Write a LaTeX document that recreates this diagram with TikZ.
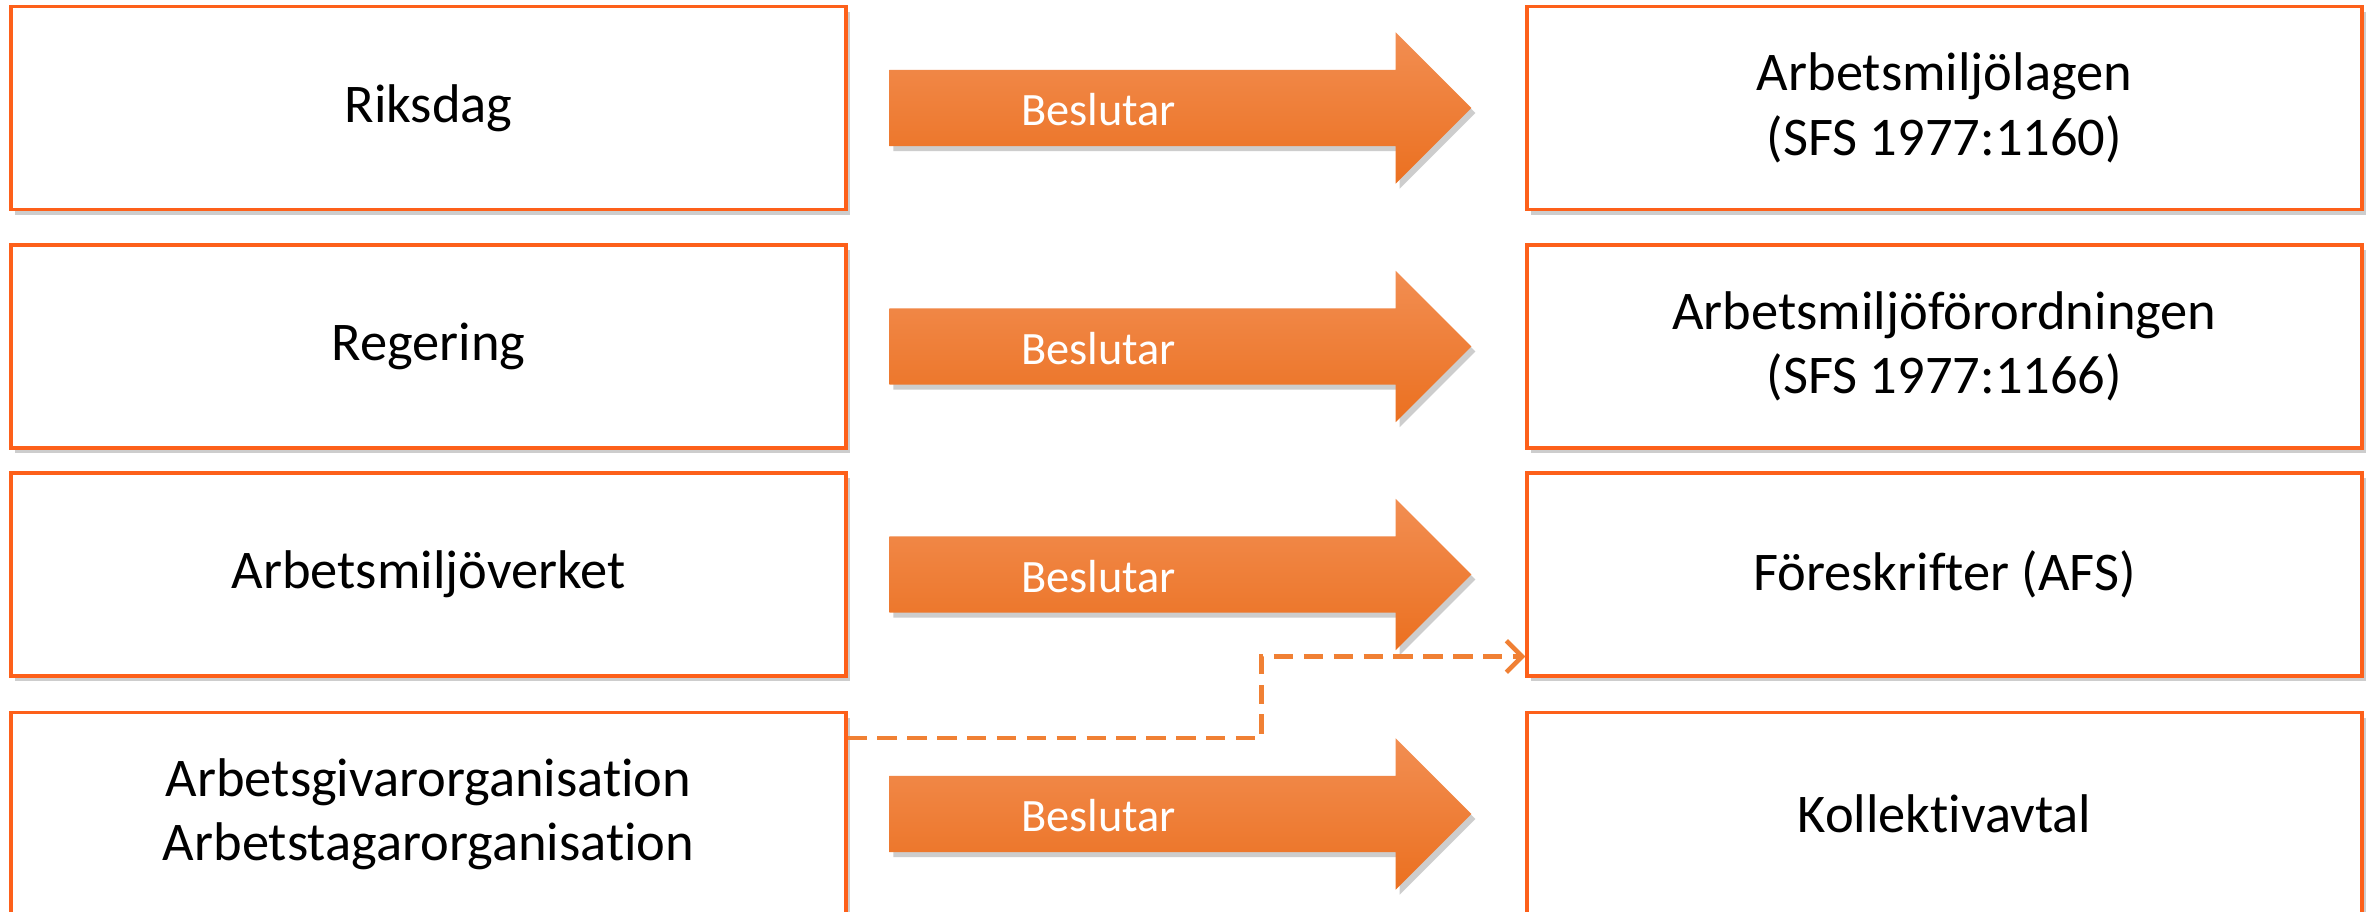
\documentclass[tikz,border=0pt]{standalone}
\usepackage{fontspec}
\setmainfont[Ligatures=NoCommon]{Carlito}
\usepackage{tikz}
\usetikzlibrary{positioning,arrows.meta,shapes.arrows,shadows}

\definecolor{kant}{RGB}{253,96,26}
\definecolor{piltop}{RGB}{242,142,82}
\definecolor{pilmid}{RGB}{244,128,48}
\definecolor{pilbot}{RGB}{235,112,32}
\definecolor{streck}{RGB}{240,128,52}

\begin{document}
\begin{tikzpicture}[
  niva/.style={rectangle,draw=kant,line width=0.9pt,fill=white,minimum width=8.35cm,minimum height=2.03cm,
    inner sep=0pt,align=center,font=\fontsize{15.5}{18.3}\selectfont,
    drop shadow={shadow xshift=0.04cm,shadow yshift=-0.05cm,opacity=0.28,fill=black!70}},
  blockpil/.style={single arrow,draw=none,minimum height=5.82cm,inner xsep=0pt,inner ysep=0.375cm,
    single arrow head extend=0.375cm,single arrow tip angle=90,
    top color=piltop,middle color=pilmid,bottom color=pilbot,
    drop shadow={shadow xshift=0.04cm,shadow yshift=-0.05cm,opacity=0.28,fill=black!70}},
  beslut/.style={font=\fontsize{13.2}{15}\selectfont,text=white,inner sep=0pt},
  streckpil/.style={-{Straight Barb[length=4.5pt,width=9pt]},streck,line width=1.3pt,dash pattern=on 5.5pt off 3pt},
]

% === canvas ===
\path[fill=white,use as bounding box] (0,0) rectangle (23.77,-9.12);

% === LEFT: decision makers ===
\node[niva] (riksdag) at (4.285,-1.08) {Riksdag};
\node[niva] (regering) at (4.285,-3.465) {Regering};
\node[niva] (verket) at (4.285,-5.745) {Arbetsmiljöverket};
\node[niva] (parter) at (4.285,-8.14) {Arbetsgivarorganisation\\Arbetstagarorganisation};

% === RIGHT: rules ===
\node[niva] (lagen) at (19.445,-1.08) {Arbetsmiljölagen\\(SFS 1977:1160)};
\node[niva] (forordning) at (19.445,-3.465) {Arbetsmiljöförordningen\\(SFS 1977:1166)};
\node[niva] (afs) at (19.445,-5.745) {Föreskrifter (AFS)};
\node[niva] (avtal) at (19.445,-8.14) {Kollektivavtal};

% === block arrows ===
\node[blockpil,right=0.41cm of riksdag] (pil1) {};
\node[blockpil,right=0.41cm of regering] (pil2) {};
\node[blockpil,right=0.41cm of verket] (pil3) {};
\node[blockpil,right=0.41cm of parter] (pil4) {};

\node[beslut] (txt1) at ([xshift=2.1cm,yshift=-0.02cm]pil1.tail) {Beslutar};
\node[beslut] (txt2) at ([xshift=2.1cm,yshift=-0.02cm]pil2.tail) {Beslutar};
\node[beslut] (txt3) at ([xshift=2.1cm,yshift=-0.02cm]pil3.tail) {Beslutar};
\node[beslut] (txt4) at ([xshift=2.1cm,yshift=-0.02cm]pil4.tail) {Beslutar};

% === dashed link to AFS ===
\draw[streckpil] ([yshift=0.76cm]parter.east) -- ++(4.14,0) |- ([yshift=-0.82cm]afs.west);

\end{tikzpicture}
\end{document}
